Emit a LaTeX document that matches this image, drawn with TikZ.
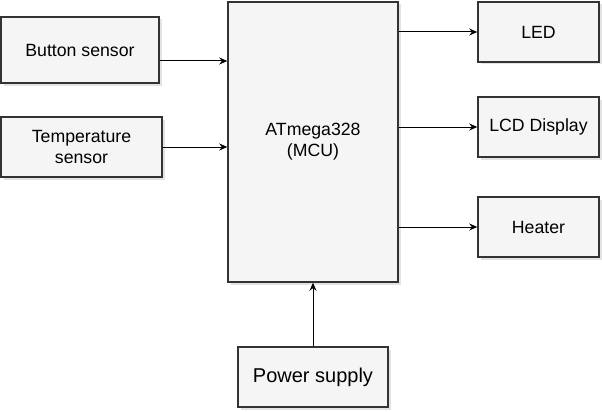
\documentclass[tikz,border=0pt]{standalone}
\usepackage{fontspec}
\setmainfont{Liberation Sans}
\usepackage{xcolor}
\usepackage{tikz}
\usetikzlibrary{arrows.meta,shadows}

\definecolor{boxfill}{HTML}{F5F5F5}
\definecolor{boxline}{HTML}{333333}

\begin{document}
\begin{tikzpicture}[
  x=1pt, y=1pt,
  block/.style={rectangle, draw=boxline, line width=1.5pt, fill=boxfill, align=center,
    minimum width=121pt, minimum height=60pt, inner sep=2pt,
    font=\fontsize{17.7}{21.2}\selectfont,
    drop shadow={shadow xshift=2.5pt, shadow yshift=-2.5pt, fill=black!22}},
  arrow/.style={-{Stealth[length=8pt,width=7pt]}, line width=1pt}
]
\useasboundingbox (0,0) rectangle (602,-412);

% Sensors
\node[block, minimum width=158pt, minimum height=66pt] (button) at (80,-50) {Button sensor};
\node[block, minimum width=161pt] (temp) at (81.5,-147) {Temperature\\sensor};

% Microcontroller
\node[block, minimum width=170pt, minimum height=280pt] (mcu) at (313,-142) {ATmega328\\(MCU)};

% Outputs
\node[block] (led) at (538.5,-32) {LED};
\node[block] (lcd) at (538.5,-127) {LCD Display};
\node[block] (heater) at (538.5,-227) {Heater};

% Power
\node[block, minimum width=150pt, font=\fontsize{20}{24}\selectfont] (power) at (313,-377) {Power supply};

% Arrows
\coordinate (btnout) at ([yshift=-11pt]button.east);
\draw[arrow] (btnout) -- (btnout -| mcu.west);
\draw[arrow] (temp.east) -- (temp.east -| mcu.west);
\draw[arrow] (led.west -| mcu.east) -- (led.west);
\draw[arrow] (lcd.west -| mcu.east) -- (lcd.west);
\draw[arrow] (heater.west -| mcu.east) -- (heater.west);
\draw[arrow] (power.north) -- (mcu.south);

\end{tikzpicture}
\end{document}
